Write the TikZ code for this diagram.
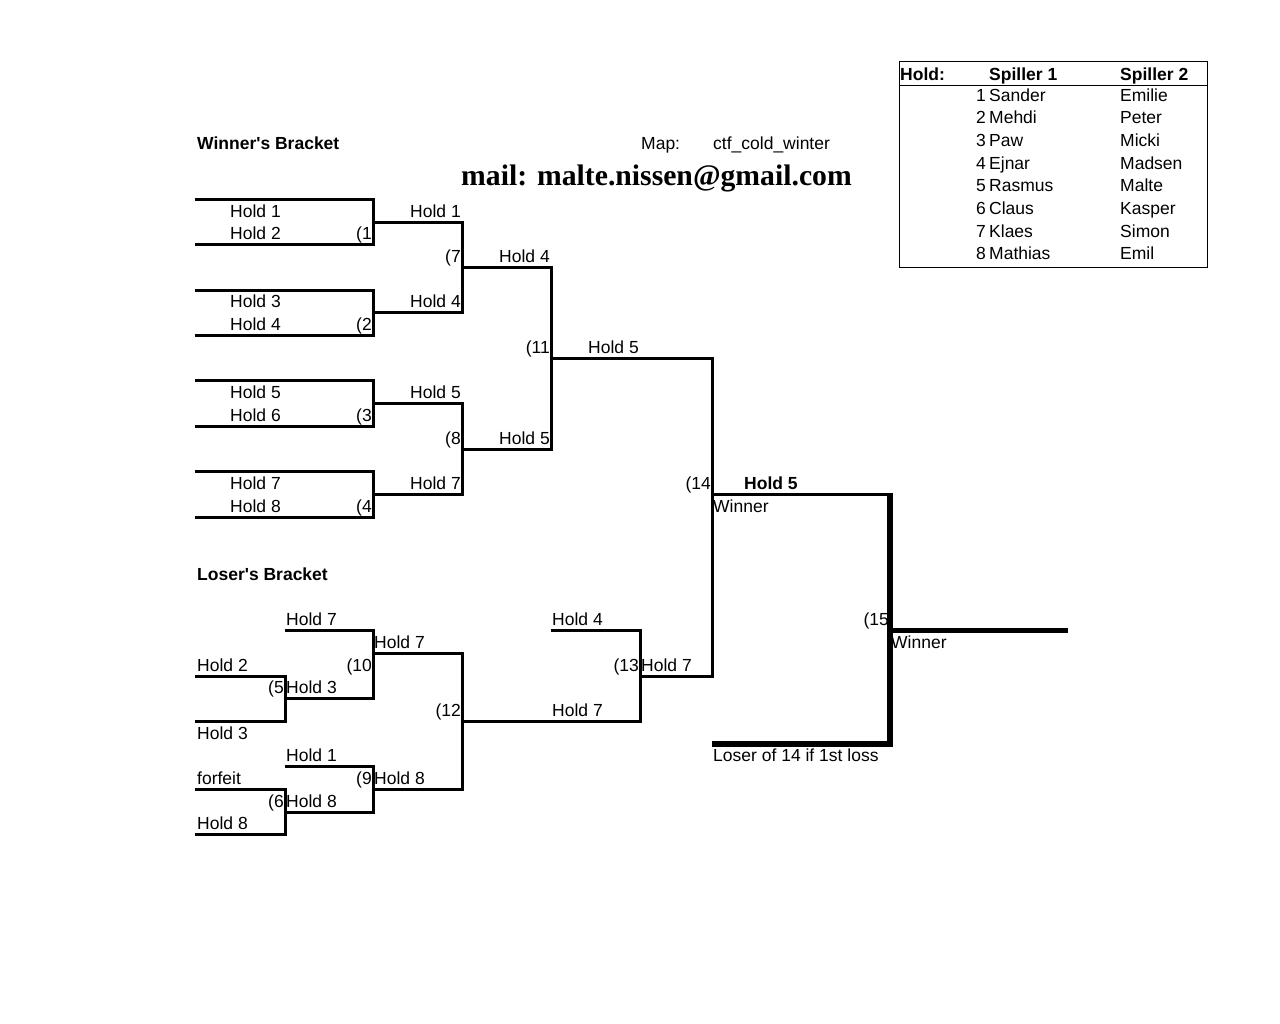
\documentclass[tikz,border=0pt]{standalone}
\usepackage{fontspec}
\setmainfont{Liberation Sans}
\newfontfamily\mailfont{Liberation Serif}

\begin{document}
\begin{tikzpicture}[x=1pt,y=-1pt,
	txt/.style={font=\fontsize{17.5}{21}\selectfont, inner sep=0pt, anchor=base west},
	rtxt/.style={txt, anchor=base east},
	btxt/.style={txt, font=\fontsize{17.5}{21}\selectfont\bfseries},
	bline/.style={line width=3pt},
	fline/.style={line width=5.5pt}]
			\useasboundingbox (0,0) rectangle (1280,1023);
			
			% Headings
			\node[btxt] (wbtitle) at (197,149) {Winner\textquotesingle s Bracket};
			\node[txt] (maplbl) at (641,149) {Map:};
			\node[txt] (mapname) at (713,149) {ctf\_cold\_winter};
			\node[txt, font=\fontsize{29.7}{34}\selectfont\mailfont\bfseries] (mail) at (461,185) {mail: malte.nissen@gmail.com};
			\node[btxt] (lbtitle) at (197,580.2) {Loser\textquotesingle s Bracket};
			
			% Team table
			\draw[line width=1pt] (899,61) rectangle (1207,267);
			\draw[line width=1pt] (899,85) -- (1207,85);
			\node[btxt] (thold) at (900,80) {Hold:};
			\node[btxt] (tsp1) at (989,80) {Spiller 1};
			\node[btxt] (tsp2) at (1120,80) {Spiller 2};
			\node[rtxt] (tn1) at (986,101) {1};     \node[txt] (ta1) at (989,101) {Sander};  \node[txt] (tb1) at (1120,101) {Emilie};
			\node[rtxt] (tn2) at (986,123.7) {2};   \node[txt] (ta2) at (989,123.7) {Mehdi}; \node[txt] (tb2) at (1120,123.7) {Peter};
			\node[rtxt] (tn3) at (986,146.4) {3};   \node[txt] (ta3) at (989,146.4) {Paw};   \node[txt] (tb3) at (1120,146.4) {Micki};
			\node[rtxt] (tn4) at (986,169.1) {4};   \node[txt] (ta4) at (989,169.1) {Ejnar}; \node[txt] (tb4) at (1120,169.1) {Madsen};
			\node[rtxt] (tn5) at (986,191.8) {5};   \node[txt] (ta5) at (989,191.8) {Rasmus};\node[txt] (tb5) at (1120,191.8) {Malte};
			\node[rtxt] (tn6) at (986,214.5) {6};   \node[txt] (ta6) at (989,214.5) {Claus}; \node[txt] (tb6) at (1120,214.5) {Kasper};
			\node[rtxt] (tn7) at (986,237.2) {7};   \node[txt] (ta7) at (989,237.2) {Klaes}; \node[txt] (tb7) at (1120,237.2) {Simon};
			\node[rtxt] (tn8) at (986,259.9) {8};   \node[txt] (ta8) at (989,259.9) {Mathias};\node[txt] (tb8) at (1120,259.9) {Emil};
			
			% Winner's bracket, first round
			\draw[bline] (195,199.3) -| (373,244.7) -- (195,244.7);
			\draw[bline] (195,290.1) -| (373,335.5) -- (195,335.5);
			\draw[bline] (195,380.9) -| (373,426.3) -- (195,426.3);
			\draw[bline] (195,471.7) -| (373,517.1) -- (195,517.1);
			\node[txt] (m1a) at (230,217) {Hold 1};
			\node[txt] (m1b) at (230,239.7) {Hold 2};
			\node[rtxt] (m1) at (372,239.7) {(1};
			\node[txt] (m2a) at (230,307.8) {Hold 3};
			\node[txt] (m2b) at (230,330.5) {Hold 4};
			\node[rtxt] (m2) at (372,330.5) {(2};
			\node[txt] (m3a) at (230,398.6) {Hold 5};
			\node[txt] (m3b) at (230,421.3) {Hold 6};
			\node[rtxt] (m3) at (372,421.3) {(3};
			\node[txt] (m4a) at (230,489.4) {Hold 7};
			\node[txt] (m4b) at (230,512.1) {Hold 8};
			\node[rtxt] (m4) at (372,512.1) {(4};
			
			% Winner's bracket, second round
			\draw[bline] (373,222) -| (462,312.8) -- (373,312.8);
			\draw[bline] (373,403.6) -| (462,494.4) -- (373,494.4);
			\node[rtxt] (m7a) at (461,217) {Hold 1};
			\node[rtxt] (m7) at (461,262.4) {(7};
			\node[rtxt] (m7b) at (461,307.8) {Hold 4};
			\node[rtxt] (m8a) at (461,398.6) {Hold 5};
			\node[rtxt] (m8) at (461,444) {(8};
			\node[rtxt] (m8b) at (461,489.4) {Hold 7};
			
			% Winner's bracket, third round
			\draw[bline] (462,267.4) -| (551,449) -- (462,449);
			\node[rtxt] (m11a) at (550,262.4) {Hold 4};
			\node[rtxt] (m11) at (550,353.2) {(11};
			\node[rtxt] (m11b) at (550,444) {Hold 5};
			
			% Match 14
			\draw[bline] (551,358.2) -| (712,676) -- (640,676);
			\node[rtxt] (m14a) at (639,353.2) {Hold 5};
			\node[rtxt] (m14) at (711,489.4) {(14};
			
			% Final, match 15
			\draw[bline] (712,494.4) -- (890,494.4);
			\draw[fline] (890,492.9) -- (890,744.1) -- (712,744.1);
			\draw[fline] (890,630.6) -- (1068,630.6);
			\node[btxt] (m15a) at (744,489.4) {Hold 5};
			\node[txt] (m15w) at (713,512.1) {Winner};
			\node[rtxt] (m15) at (889,625.6) {(15};
			\node[txt] (champ) at (891,648.3) {Winner};
			\node[txt] (m15b) at (713,761.8) {Loser of 14 if 1st loss};
			
			% Loser's bracket
			\draw[bline] (195,676) -| (285,721.4) -- (195,721.4);
			\draw[bline] (195,789.5) -| (285,834.9) -- (195,834.9);
			\draw[bline] (285,630.6) -| (373,698.7) -- (285,698.7);
			\draw[bline] (285,766.8) -| (373,812.2) -- (285,812.2);
			\draw[bline] (373,653.3) -| (462,789.5) -- (373,789.5);
			\draw[bline] (551,630.6) -| (640,721.4) -- (462,721.4);
			\node[txt] (m5a) at (197,671) {Hold 2};
			\node[rtxt] (m5) at (284,693.7) {(5};
			\node[txt] (m5b) at (197,739.1) {Hold 3};
			\node[txt] (m6a) at (197,784.5) {forfeit};
			\node[rtxt] (m6) at (284,807.2) {(6};
			\node[txt] (m6b) at (197,829.9) {Hold 8};
			\node[txt] (m10a) at (286,625.6) {Hold 7};
			\node[rtxt] (m10) at (372,671) {(10};
			\node[txt] (m10b) at (286,693.7) {Hold 3};
			\node[txt] (m9a) at (286,761.8) {Hold 1};
			\node[rtxt] (m9) at (372,784.5) {(9};
			\node[txt] (m9b) at (286,807.2) {Hold 8};
			\node[txt] (m12a) at (374,648.3) {Hold 7};
			\node[rtxt] (m12) at (461,716.4) {(12};
			\node[txt] (m12b) at (374,784.5) {Hold 8};
			\node[txt] (m13a) at (552,625.6) {Hold 4};
			\node[rtxt] (m13) at (639,671) {(13};
			\node[txt] (m13w) at (641,671) {Hold 7};
			\node[txt] (m13b) at (552,716.4) {Hold 7};
			
		\end{tikzpicture}
\end{document}
